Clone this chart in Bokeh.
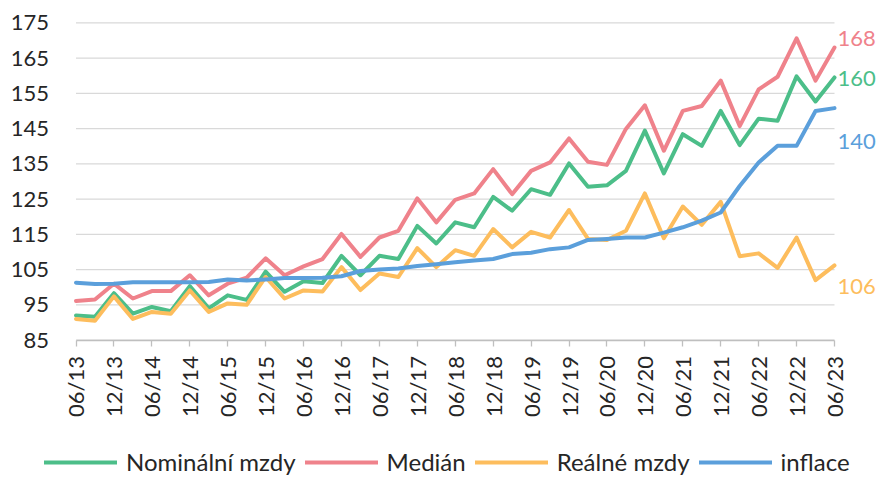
from bokeh.plotting import figure
from bokeh.models import Range1d, FixedTicker, Legend, LegendItem, Label, ColumnDataSource
from bokeh.embed import file_html
from bokeh.resources import INLINE
import math

# ---- data ----
quarters = []
for yr in range(13, 24):
    for m in ["03", "06", "09", "12"]:
        quarters.append(f"{m}/{yr:02d}")
quarters = quarters[1:42]  # 06/13 .. 06/23

nominalni = [92.0, 91.6, 98.3, 92.5, 94.4, 93.2, 100.3, 94.0, 97.7, 96.4,
             104.4, 98.7, 101.7, 101.2, 108.9, 103.4, 108.9, 108.0, 117.4, 112.4,
             118.4, 117.0, 125.6, 121.7, 127.8, 126.2, 135.1, 128.5, 128.9, 133.0,
             144.4, 132.3, 143.4, 140.1, 150.0, 140.3, 147.8, 147.2, 159.8, 152.7, 159.5]
median = [96.1, 96.5, 101.0, 96.8, 98.9, 98.9, 103.4, 97.7, 101.0, 102.7,
          108.2, 103.4, 105.9, 108.0, 115.1, 108.6, 114.1, 116.0, 125.2, 118.4,
          124.8, 126.6, 133.5, 126.4, 133.0, 135.4, 142.2, 135.6, 134.7, 144.9,
          151.6, 138.7, 150.0, 151.4, 158.6, 145.7, 156.1, 159.7, 170.6, 158.6, 168.0]
realne = [91.0, 90.5, 97.4, 91.0, 93.0, 92.5, 99.1, 93.0, 95.4, 95.0,
          102.9, 96.8, 99.1, 98.8, 105.7, 99.2, 103.9, 102.9, 111.1, 105.7,
          110.5, 108.9, 116.5, 111.3, 115.7, 114.1, 121.9, 113.7, 113.4, 116.0,
          126.6, 113.9, 122.9, 117.7, 124.2, 108.8, 109.6, 105.5, 114.1, 102.0, 106.2]
inflace = [101.3, 100.9, 101.0, 101.4, 101.4, 101.4, 101.4, 101.5, 102.2, 101.9,
           102.2, 102.6, 102.6, 102.7, 103.1, 104.6, 105.0, 105.3, 106.0, 106.5,
           107.1, 107.6, 108.0, 109.4, 109.8, 110.8, 111.3, 113.4, 113.7, 114.1,
           114.1, 115.5, 117.0, 118.9, 121.2, 128.7, 135.4, 140.1, 140.1, 150.0, 150.8]

series_names = ["Nominální mzdy", "Medián", "Reálné mzdy", "inflace"]
end_labels = ["160", "168", "106", "140"]
y_ticks = list(range(85, 176, 10))

colors = ["#4cbe89", "#ef828b", "#fdbd5d", "#5b9fdb"]
FONT = "Lato"
TXT = "#262626"

x = list(range(len(quarters)))
tick_idx = x[::2]
last = len(quarters) - 1
y_lo, y_hi = y_ticks[0], y_ticks[-1]

# ---- layout (pixels) ----
W, H = 878, 476
X0_PX, X1_PX = 75.5, 834.0      # first / last quarter
YT_PX, YB_PX = 22.3, 339.6      # 175 / 85
kx = (X1_PX - X0_PX) / last
ky = (YB_PX - YT_PX) / (y_hi - y_lo)
x_start = -X0_PX / kx
x_end = last + (W - X1_PX) / kx
y_end = y_hi + YT_PX / ky
y_start = y_lo - (H - YB_PX) / ky

p = figure(width=W, height=H, output_backend="svg", toolbar_location=None,
           x_range=Range1d(x_start, x_end), y_range=Range1d(y_start, y_end),
           min_border=0, min_border_left=0, min_border_right=0,
           min_border_top=0, min_border_bottom=0)
p.outline_line_color = None
p.background_fill_color = "white"
p.border_fill_color = "white"
p.xgrid.grid_line_color = None
p.ygrid.grid_line_color = None

# horizontal gridlines limited to the data span
p.segment(x0=[0] * len(y_ticks), x1=[last] * len(y_ticks), y0=y_ticks, y1=y_ticks,
          line_color="#d9d9d9", line_width=1.3)

p.yaxis.fixed_location = 0
p.yaxis.bounds = (y_lo, y_hi)
p.yaxis.ticker = FixedTicker(ticks=y_ticks)
p.yaxis.axis_line_color = None
p.yaxis.major_tick_line_color = None
p.yaxis.minor_tick_line_color = None
p.yaxis.major_label_standoff = 21
p.yaxis.major_label_text_font = FONT
p.yaxis.major_label_text_font_size = "22px"
p.yaxis.major_label_text_color = TXT

p.xaxis.fixed_location = y_lo
p.xaxis.bounds = (0, last)
p.xaxis.ticker = FixedTicker(ticks=tick_idx)
p.xaxis.major_label_overrides = {i: quarters[i] for i in tick_idx}
p.xaxis.major_label_orientation = math.pi / 2
p.xaxis.axis_line_color = "#bfbfbf"
p.xaxis.axis_line_width = 1.3
p.xaxis.major_tick_line_color = "#bfbfbf"
p.xaxis.major_tick_line_width = 1.3
p.xaxis.major_tick_out = 6
p.xaxis.major_tick_in = 0
p.xaxis.minor_tick_line_color = None
p.xaxis.major_label_standoff = 10
p.xaxis.major_label_text_font = FONT
p.xaxis.major_label_text_font_size = "22px"
p.xaxis.major_label_text_color = TXT

src = ColumnDataSource(dict(x=x, nom=nominalni, med=median, real=realne, inf=inflace))
cols = ["nom", "med", "real", "inf"]
renderers = []
for c, col in zip(cols, colors):
    renderers.append(p.line("x", c, source=src, line_color=col, line_width=4,
                            line_join="round", line_cap="round"))

# end labels
label_pos = [159.2, 170.6, 100.1, 141.2]
for txt, yv, col in zip(end_labels, label_pos, colors):
    p.add_layout(Label(x=last, y=yv, text=txt, x_offset=3,
                       text_baseline="middle", text_align="left",
                       text_font=FONT, text_font_size="22px", text_color=col))

items = [LegendItem(label=n, renderers=[r]) for n, r in zip(series_names, renderers)]
legend = Legend(items=items, orientation="horizontal", location=(44, 0),
                glyph_width=73, glyph_height=20, label_height=20, label_standoff=9,
                spacing=9, padding=0, margin=0, border_line_color=None,
                background_fill_alpha=0,
                label_text_font=FONT, label_text_font_size="24px", label_text_color=TXT)
p.add_layout(legend, "center")

open("out.html", "w").write(file_html(p, INLINE))
